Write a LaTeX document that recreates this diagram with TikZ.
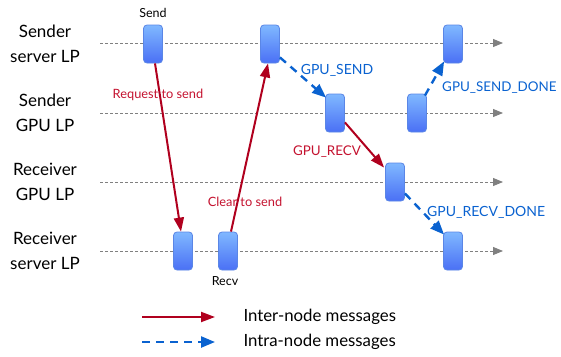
\documentclass[tikz,border=0pt]{standalone}
\usepackage{fontspec}
\setmainfont{Lato}
\usetikzlibrary{arrows.meta}
\definecolor{lpred}{HTML}{B0001E}
\definecolor{lpredtxt}{HTML}{C4122F}
\definecolor{lpblue}{HTML}{0A62D0}
\definecolor{lpgray}{HTML}{808080}
\definecolor{boxtop}{HTML}{80B8FF}
\definecolor{boxbot}{HTML}{4A70F5}
\definecolor{boxedge}{HTML}{5A86E6}
\tikzset{
  evbox/.style={rectangle, rounded corners=3.5pt, minimum width=19pt, minimum height=38pt,
    inner sep=0pt, top color=boxtop, bottom color=boxbot, draw=boxedge, line width=0.8pt},
  lane/.style={draw=lpgray, line width=0.9pt, dash pattern=on 3pt off 2pt,
    -{Triangle[length=10pt,width=8pt,fill=lpgray]}},
  inter/.style={draw=lpred, line width=2pt, -{Triangle[length=14pt,width=10pt]}},
  intra/.style={draw=lpblue, line width=2.4pt, dash pattern=on 8pt off 6pt,
    -{Triangle[length=14pt,width=11pt]}},
  lplabel/.style={align=center, font=\fontsize{17}{25}\selectfont, text=black},
  redlbl/.style={text=lpredtxt, font=\fontsize{12.8}{14}\selectfont, inner sep=1pt},
  bluelbl/.style={text=lpblue, font=\fontsize{14}{15}\selectfont, inner sep=1pt},
  smalllbl/.style={font=\fontsize{12.5}{13}\selectfont, text=black},
  legtxt/.style={font=\fontsize{16.8}{18}\selectfont, anchor=west, text=black}
}
\begin{document}
\begin{tikzpicture}[x=1pt,y=-1pt]
\useasboundingbox (0,0) rectangle (561,356);
% lanes
\coordinate (l1a) at (100,43);  \coordinate (l1b) at (503,43);
\coordinate (l2a) at (100,113); \coordinate (l2b) at (503,113);
\coordinate (l3a) at (100,182); \coordinate (l3b) at (503,182);
\coordinate (l4a) at (100,251); \coordinate (l4b) at (503,251);
\draw[lane] (l1a) -- (l1b);
\draw[lane] (l2a) -- (l2b);
\draw[lane] (l3a) -- (l3b);
\draw[lane] (l4a) -- (l4b);
% lane labels
\node[lplabel] (t1) at (45,44) {Sender\\server LP};
\node[lplabel] (t2) at (45,113) {Sender\\GPU LP};
\node[lplabel] (t3) at (45,182) {Receiver\\GPU LP};
\node[lplabel] (t4) at (45,251) {Receiver\\server LP};
% boxes
\node[evbox] (s1) at (153,44) {};
\node[evbox] (s2) at (270,44) {};
\node[evbox] (s3) at (453,44) {};
\node[evbox] (g1) at (335,113) {};
\node[evbox] (g2) at (417,113) {};
\node[evbox] (rg) at (395,182) {};
\node[evbox] (r1) at (183,251) {};
\node[evbox] (r2) at (228,251) {};
\node[evbox] (r3) at (453,251) {};
% small labels
\node[smalllbl] (send) at (153,13) {Send};
\node[smalllbl] (recv) at (225,281) {Recv};
% messages
\draw[inter] ([xshift=2pt]s1.south) -- ([xshift=-2pt]r1.north);
\draw[inter] ([xshift=3pt]r2.north) -- ([xshift=-2pt]s2.south);
\draw[intra] ([yshift=6pt]s2.south east) -- ([xshift=1pt,yshift=-4pt]g1.north west);
\draw[inter] ([yshift=10pt]g1.south east) -- ([xshift=-1pt,yshift=-5pt]rg.north west);
\draw[intra] ([xshift=-2pt,yshift=-2pt]g2.north east) -- ([xshift=1pt,yshift=2pt]s3.south west);
\draw[intra] ([yshift=8pt]rg.south east) -- ([xshift=1pt,yshift=-3pt]r3.north west);
% message labels
\node[redlbl] (rts) at (158,95) {Request to send};
\node[redlbl] (cts) at (245,202) {Clear to send};
\node[bluelbl] (gs) at (337,70) {GPU\_SEND};
\node[redlbl, font=\fontsize{13.4}{15}\selectfont] (gr) at (327,152) {GPU\_RECV};
\node[bluelbl, anchor=west, font=\fontsize{13.4}{15}\selectfont] (gsd) at (441,88) {GPU\_SEND\_DONE};
\node[bluelbl, anchor=west] (grd) at (426,212) {GPU\_RECV\_DONE};
% legend
\coordinate (la1) at (142,317); \coordinate (la2) at (215,317);
\coordinate (lb1) at (142,342); \coordinate (lb2) at (215,342);
\draw[inter] (la1) -- (la2);
\draw[intra] (lb1) -- (lb2);
\node[legtxt] (lt1) at (240,317) {Inter-node messages};
\node[legtxt] (lt2) at (240,342) {Intra-node messages};
\end{tikzpicture}
\end{document}
